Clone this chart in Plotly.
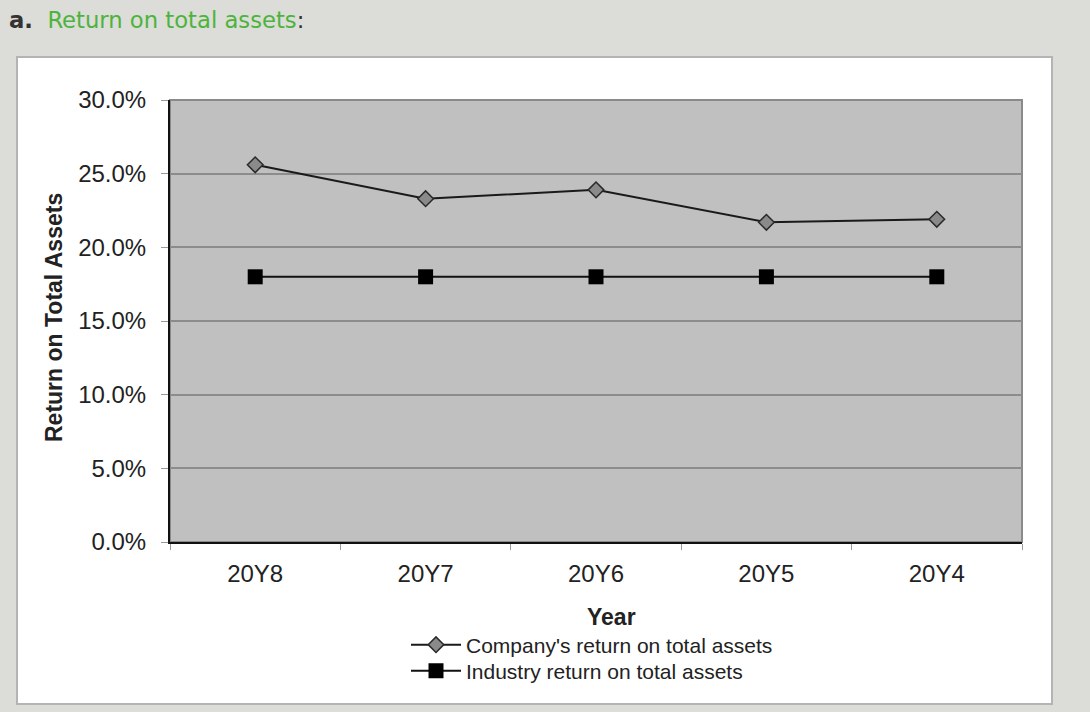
import plotly.graph_objects as go

years = ["20Y8", "20Y7", "20Y6", "20Y5", "20Y4"]
company_roa = [25.6, 23.3, 23.9, 21.7, 21.9]
industry_roa = [18.0, 18.0, 18.0, 18.0, 18.0]
y_ticks = [0, 5, 10, 15, 20, 25, 30]
y_tick_labels = [f"{v:.1f}%" for v in y_ticks]

# plot-area geometry in pixels (used only to place decorations)
W, H = 1090, 712
L, R, T, B = 170, 1022, 100, 542
PW, PH = R - L, B - T

def px(xp):
    return (xp - L) / PW

def py(yp):
    return (B - yp) / PH

FONT = "Liberation Sans, Arial, sans-serif"

fig = go.Figure()
fig.add_trace(go.Scatter(
    x=years, y=company_roa, mode="lines+markers",
    name="Company's return on total assets", legend="legend",
    line=dict(color="#1a1a1a", width=2),
    marker=dict(symbol="diamond", size=12, color="#8a8a8a",
                line=dict(color="#2a2a2a", width=1.5)),
))
fig.add_trace(go.Scatter(
    x=years, y=industry_roa, mode="lines+markers",
    name="Industry return on total assets", legend="legend2",
    line=dict(color="#111111", width=2),
    marker=dict(symbol="square", size=15, color="#000000",
                line=dict(color="#000000", width=0)),
))

shapes = [
    # white panel
    dict(type="rect", xref="paper", yref="paper", layer="below",
         x0=px(17), x1=px(1052), y0=py(704), y1=py(57),
         fillcolor="white", line=dict(color="#b4b4b4", width=2)),
    # gray plot area
    dict(type="rect", xref="paper", yref="paper", layer="below",
         x0=0, x1=1, y0=0, y1=1,
         fillcolor="#c0c0c0", line=dict(color="#8a8a8a", width=2)),
]

annotations = [
    dict(xref="paper", yref="paper", x=px(7), y=py(20), xanchor="left", yanchor="middle",
         showarrow=False,
         text="<b>a.</b>  <span style='color:#4cb43c'>Return on total assets</span>:",
         font=dict(family="DejaVu Sans, Verdana, sans-serif", size=22.7, color="#333333")),
    dict(xref="paper", yref="paper", x=px(54), y=py(318), xanchor="center", yanchor="middle",
         showarrow=False, textangle=-90, text="<b>Return on Total Assets</b>",
         font=dict(family=FONT, size=23, color="#222222")),
    dict(xref="paper", yref="paper", x=px(611), y=py(617), xanchor="center", yanchor="middle",
         showarrow=False, text="<b>Year</b>",
         font=dict(family=FONT, size=23, color="#222222")),
]

legend_common = dict(xanchor="left", yanchor="middle",
                     bgcolor="rgba(0,0,0,0)", borderwidth=0,
                     font=dict(family=FONT, size=21, color="#222222"),
                     itemwidth=50)

fig.update_layout(
    width=W, height=H, autosize=False,
    margin=dict(l=L, r=W - R, t=T, b=H - B, pad=0),
    paper_bgcolor="#dcdcd8",
    plot_bgcolor="rgba(0,0,0,0)",
    shapes=shapes,
    annotations=annotations,
    showlegend=True,
    legend=dict(x=px(406), y=py(645), **legend_common),
    legend2=dict(x=px(406), y=py(671), **legend_common),
    font=dict(family=FONT, color="#222222"),
)

fig.update_xaxes(
    type="category", range=[-0.5, 4.5],
    showline=True, linecolor="#111111", linewidth=2,
    ticks="outside", ticklen=6, tickcolor="#999999", tickson="boundaries",
    showgrid=False, zeroline=False,
    tickfont=dict(family=FONT, size=24, color="#222222"),
    ticklabelstandoff=9,
)
fig.update_yaxes(
    range=[0, 30], tickmode="array", tickvals=y_ticks, ticktext=y_tick_labels,
    showline=True, linecolor="#111111", linewidth=2,
    ticks="outside", ticklen=7, tickcolor="#999999",
    showgrid=True, gridcolor="#8c8c8c", gridwidth=1.5, zeroline=False,
    tickfont=dict(family=FONT, size=24, color="#222222"),
    ticklabelstandoff=10,
)

fig.write_html(
    "out.html",
    config={"displayModeBar": False},
    post_script="document.body.style.margin='0';document.body.style.overflow='hidden';",
)
